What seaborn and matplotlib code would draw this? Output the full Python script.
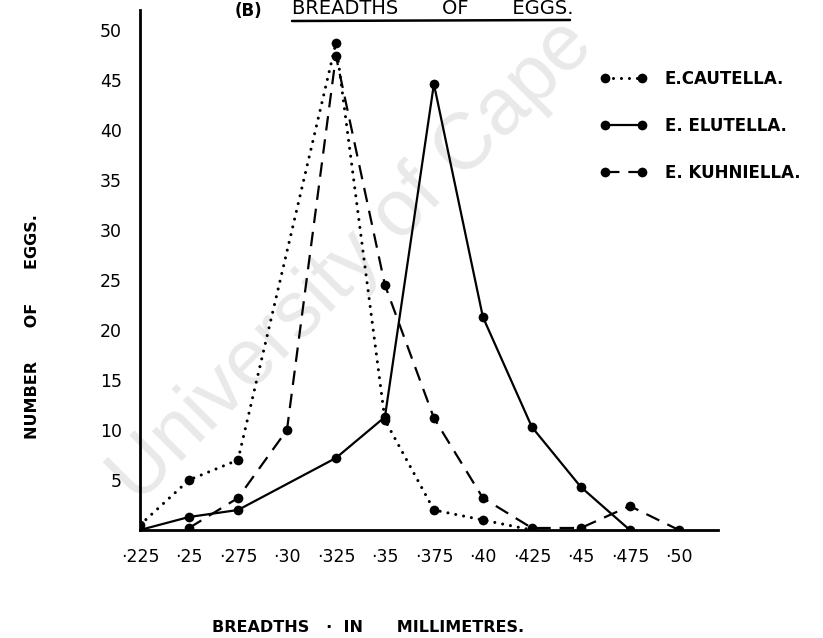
import matplotlib
matplotlib.use("Agg")
import matplotlib.pyplot as plt
import seaborn as sns

# ---- data ----
caut_x = [0.225, 0.25, 0.275, 0.325, 0.35, 0.375, 0.40, 0.425]
caut_y = [0.5, 5, 7, 48.7, 11, 2, 1, 0]

elut_x = [0.225, 0.25, 0.275, 0.325, 0.35, 0.375, 0.40, 0.425, 0.45, 0.475]
elut_y = [0, 1.3, 2, 7.2, 11.3, 44.6, 21.3, 10.3, 4.3, 0]

kuhn_x = [0.25, 0.275, 0.30, 0.325, 0.35, 0.375, 0.40, 0.425, 0.45, 0.475, 0.50]
kuhn_y = [0.2, 3.2, 10, 47.4, 24.5, 11.2, 3.2, 0.2, 0.2, 2.4, 0]

series_labels = ["E.CAUTELLA.", "E. ELUTELLA.", "E. KUHNIELLA."]

x_ticks = [0.225, 0.25, 0.275, 0.30, 0.325, 0.35, 0.375, 0.40, 0.425, 0.45, 0.475, 0.50]
x_tick_labels = ["·225", "·25", "·275", "·30", "·325", "·35", "·375", "·40",
                 "·425", "·45", "·475", "·50"]
y_ticks = [5, 10, 15, 20, 25, 30, 35, 40, 45, 50]
y_tick_labels = ["5", "10", "15", "20", "25", "30", "35", "40", "45", "50"]

title_prefix = "(B)"
title_text = "BREADTHS       OF       EGGS."
x_label = "BREADTHS   ·  IN      MILLIMETRES."
y_label = "NUMBER      OF      EGGS."
watermark = "University of Cape"

# ---- figure ----
sns.set_theme(style="white")
plt.rcParams["font.family"] = ["DejaVu Sans"]

W, H = 823, 638
fig = plt.figure(figsize=(W / 100, H / 100), dpi=100)
fig.patch.set_facecolor("white")


def fx(px):
    return px / W


def fy(py):
    return 1 - py / H


ax = fig.add_axes([fx(140), fy(530), 578 / W, 520 / H])
ax.patch.set_visible(False)

# watermark (behind everything)
fig.text(fx(352), fy(262), watermark, rotation=45, rotation_mode="anchor",
         ha="center", va="center", fontsize=57, color="#e9e9e9",
         family="Liberation Sans", zorder=-5)

lw = 1.6
sns.lineplot(x=caut_x, y=caut_y, ax=ax, color="black", lw=2.2,
             linestyle=(0, (0.01, 2.6)), dash_capstyle="round",
             marker="o", markersize=7, markeredgewidth=0,
             label=series_labels[0], sort=False, estimator=None)
sns.lineplot(x=elut_x, y=elut_y, ax=ax, color="black", lw=lw,
             linestyle="-", marker="o", markersize=7, markeredgewidth=0,
             label=series_labels[1], sort=False, estimator=None)
sns.lineplot(x=kuhn_x, y=kuhn_y, ax=ax, color="black", lw=lw,
             linestyle=(0, (6.5, 4)), marker="o", markersize=7,
             markeredgewidth=0, label=series_labels[2], sort=False,
             estimator=None)

ax.set_xlim(0.225, 0.52)
ax.set_ylim(0, 52)
ax.set_xticks(x_ticks)
ax.set_xticklabels(x_tick_labels, fontsize=12.5)
ax.set_yticks(y_ticks)
ax.set_yticklabels(y_tick_labels, fontsize=12.5)
ax.tick_params(axis="both", direction="out", length=12, width=1.8,
               color="black", labelcolor="black", pad=1)
ax.tick_params(axis="x", pad=1)
for s in ["top", "right"]:
    ax.spines[s].set_visible(False)
for s in ["left", "bottom"]:
    ax.spines[s].set_linewidth(2)
    ax.spines[s].set_color("black")
ax.set_xlabel("")
ax.set_ylabel("")
ax.grid(False)

leg = ax.legend(loc="upper left", bbox_to_anchor=(fx(600), fy(70)),
                bbox_transform=fig.transFigure, frameon=False, numpoints=2,
                handlelength=2.8, handletextpad=1.1, labelspacing=1.75,
                borderpad=0, borderaxespad=0,
                prop={"family": "DejaVu Sans", "weight": "bold", "size": 12})
for t in leg.get_texts():
    t.set_color("black")

# title and underline
fig.text(fx(248), fy(11), title_prefix, ha="center", va="center",
         fontsize=12, weight="bold", color="black")
fig.text(fx(292), fy(9), title_text, ha="left", va="center",
         fontsize=14, color="black")
fig.add_artist(plt.Line2D([fx(292), fx(570)], [fy(21), fy(20)],
                          transform=fig.transFigure, color="black", lw=1.8))

# axis labels
fig.text(fx(368), fy(627), x_label, ha="center", va="center",
         fontsize=11.5, weight="bold", color="black")
fig.text(fx(33), fy(327), y_label, ha="center", va="center", rotation=90,
         fontsize=11.5, weight="bold", color="black")

fig.savefig("out.png", dpi=100)
